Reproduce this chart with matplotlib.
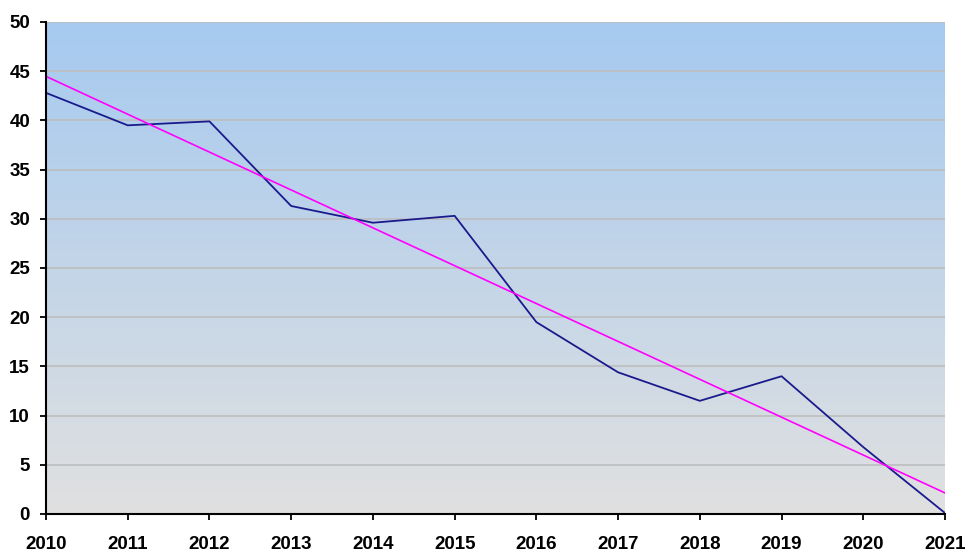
import numpy as np
import matplotlib
matplotlib.use("Agg")
import matplotlib.pyplot as plt
from matplotlib.colors import LinearSegmentedColormap

years = [2010, 2011, 2012, 2013, 2014, 2015, 2016, 2017, 2018, 2019, 2020, 2021]
values = [42.8, 39.5, 39.9, 31.3, 29.6, 30.3, 19.5, 14.4, 11.5, 14.0, 6.8, 0.1]

# linear trend line
coef = np.polyfit(years, values, 1)
trend = np.polyval(coef, years)

fig = plt.figure(figsize=(9.68, 5.53), dpi=100)
ax = fig.add_axes([46/968, 39/553, 899/968, 492/553])

# background gradient blue (top) to grey (bottom)
cmap = LinearSegmentedColormap.from_list("bg", ["#E0E0E0", "#A6CAF0"])
grad = np.linspace(0, 1, 256).reshape(-1, 1)
ax.imshow(grad, aspect="auto", cmap=cmap, origin="lower",
          extent=[2010, 2021, 0, 50], zorder=0)

ax.plot(years, values, color="#1A1A8C", lw=1.3, zorder=3)
ax.plot(years, trend, color="#FF00FF", lw=1.2, zorder=3)

ax.set_xlim(2010, 2021)
ax.set_ylim(0, 50)
ax.set_xticks(years)
ax.set_yticks(range(0, 51, 5))
ax.yaxis.grid(True, color="#BDBDBD", lw=1.2, zorder=1)
ax.set_axisbelow(False)
for g in ax.get_ygridlines():
    g.set_zorder(1)

for s in ["top", "right"]:
    ax.spines[s].set_visible(False)
for s in ["left", "bottom"]:
    ax.spines[s].set_linewidth(1.5)
    ax.spines[s].set_color("black")
    ax.spines[s].set_zorder(4)

ax.tick_params(axis="both", direction="out", length=4.5, width=1.3,
               labelsize=13.5, colors="black")
ax.tick_params(axis="y", pad=7)
ax.tick_params(axis="x", pad=11)
for lbl in ax.get_xticklabels() + ax.get_yticklabels():
    lbl.set_fontweight("bold")
    lbl.set_fontfamily("Liberation Sans")

fig.savefig("out.png", dpi=100)
